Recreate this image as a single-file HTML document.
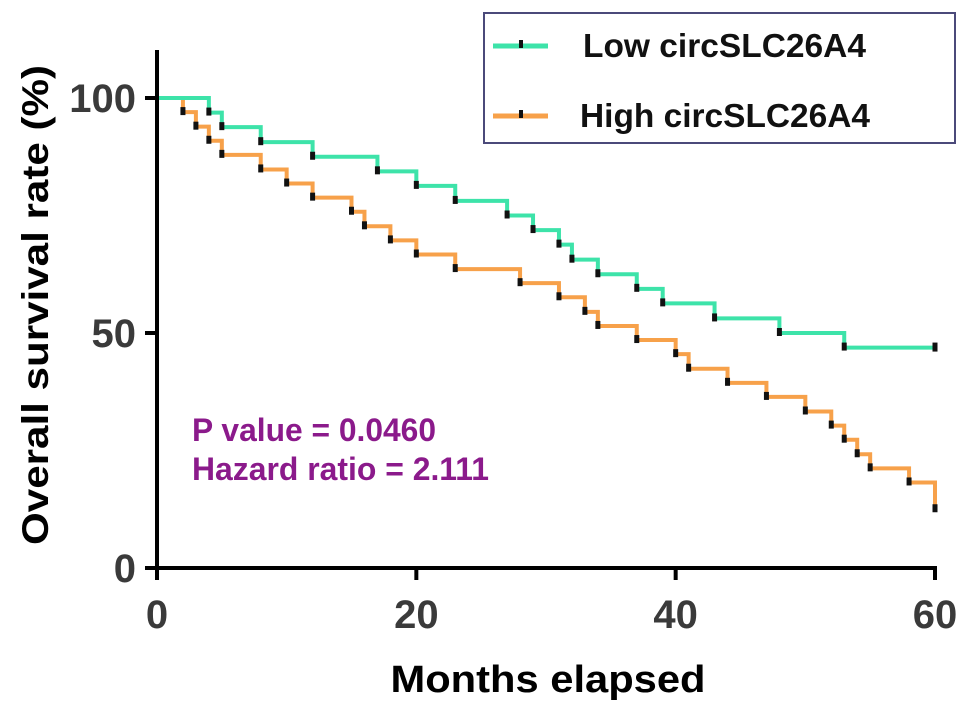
<!DOCTYPE html>
<html><head><meta charset="utf-8"><style>
html,body{margin:0;padding:0;background:#fff;}
svg{display:block;font-family:"Liberation Sans",Arial,sans-serif;font-weight:bold;}
</style></head><body>
<svg id="chart" width="969" height="712" viewBox="0 0 969 712" xmlns="http://www.w3.org/2000/svg">
<g id="plot"></g>
<text transform="translate(48,305) rotate(-90)" text-anchor="middle" font-size="37" fill="#000" textLength="480" lengthAdjust="spacingAndGlyphs">Overall survival rate (%)</text>
<text x="548" y="692" text-anchor="middle" font-size="38" fill="#000" textLength="315" lengthAdjust="spacingAndGlyphs">Months elapsed</text>
<text x="192" y="441" font-size="32" fill="#8b1a8b" textLength="244" lengthAdjust="spacingAndGlyphs">P value = 0.0460</text>
<text x="192" y="480" font-size="32" fill="#8b1a8b" textLength="297" lengthAdjust="spacingAndGlyphs">Hazard ratio = 2.111</text>
<g>
<rect x="484" y="13" width="471" height="130" fill="#fff" stroke="#4b4a7a" stroke-width="2"/>
<g>
<line x1="493" y1="46" x2="548" y2="46" stroke="#3de3a9" stroke-width="5"/>
<rect x="519" y="40" width="4" height="8" fill="#111"/>
<text x="583" y="57" font-size="33" fill="#111" textLength="283" lengthAdjust="spacingAndGlyphs">Low circSLC26A4</text>
</g>
<g>
<line x1="493" y1="116" x2="548" y2="116" stroke="#f7a14a" stroke-width="5"/>
<rect x="519" y="110" width="4" height="8" fill="#111"/>
<text x="580" y="127" font-size="33" fill="#111" textLength="290" lengthAdjust="spacingAndGlyphs">High circSLC26A4</text>
</g>
</g>
</svg>
<script>
const xTicks=[0,20,40,60];
const yTicks=[0,50,100];
const lowTimes=[4,5,8,12,17,20,23,27,29,31,32,34,37,39,43,48,53];
const lowSurv=[96.9,93.8,90.6,87.5,84.4,81.3,78.1,75,71.9,68.8,65.6,62.5,59.4,56.3,53.1,50,46.9];
const highTimes=[2,3,4,5,8,10,12,15,16,18,20,23,28,31,33,34,37,40,41,44,47,50,52,53,54,55,58,60];
const highSurv=[97,93.9,90.9,87.9,84.8,81.8,78.8,75.8,72.7,69.7,66.7,63.6,60.6,57.6,54.5,51.5,48.5,45.5,42.4,39.4,36.4,33.3,30.3,27.3,24.2,21.2,18.2,12.5];
const xMax=60;
const NS='http://www.w3.org/2000/svg';
const X0=157,X1=935,Y0=568,Y1=98;
function xs(t){return X0+(X1-X0)*t/xMax;}
function ys(s){return Y0-(Y0-Y1)*s/100;}
const plot=document.getElementById('plot');
function mk(tag,attrs){const e=document.createElementNS(NS,tag);for(const k in attrs)e.setAttribute(k,attrs[k]);plot.appendChild(e);return e;}
function curve(times,surv,color,name){
  let d='M'+xs(0)+','+ys(100);let prev=100;
  times.forEach((t,i)=>{d+=' H'+xs(t)+' V'+ys(surv[i]);prev=surv[i];});
  if(times[times.length-1]<xMax)d+=' H'+xs(xMax);
  const p=mk('path',{d:d,fill:'none',stroke:color,'stroke-width':4});
  
  
  times.forEach((t,i)=>{
    const r=mk('rect',{x:xs(t)-2.5,y:ys(surv[i])-5,width:5,height:8,fill:'#111'});
    
    
  });
  if(times[times.length-1]<xMax){
    const r=mk('rect',{x:xs(xMax)-2.5,y:ys(surv[surv.length-1])-5,width:5,height:9,fill:'#111'});
    
    
  }
}
curve(highTimes,highSurv,'#f7a14a','high');
curve(lowTimes,lowSurv,'#3de3a9','low');
// redraw high start segment on top near origin
const ya=mk('line',{x1:X0,y1:50,x2:X0,y2:Y0+2,stroke:'#000','stroke-width':4});


const xa=mk('line',{x1:X0-2,y1:Y0,x2:X1+2,y2:Y0,stroke:'#000','stroke-width':4});


yTicks.forEach(v=>{
  const l=mk('line',{x1:X0-12,y1:ys(v),x2:X0,y2:ys(v),stroke:'#000','stroke-width':4});
  
  
  const t=mk('text',{x:136,y:ys(v)+14,'text-anchor':'end','font-size':40,fill:'#3a3a3a'});
  t.textContent=v;
  
  
});
xTicks.forEach(v=>{
  const l=mk('line',{x1:xs(v),y1:Y0,x2:xs(v),y2:Y0+12,stroke:'#000','stroke-width':4});
  
  
  const t=mk('text',{x:xs(v),y:628,'text-anchor':'middle','font-size':40,fill:'#3a3a3a'});
  t.textContent=v;
  
  
});
</script>
</body></html>
